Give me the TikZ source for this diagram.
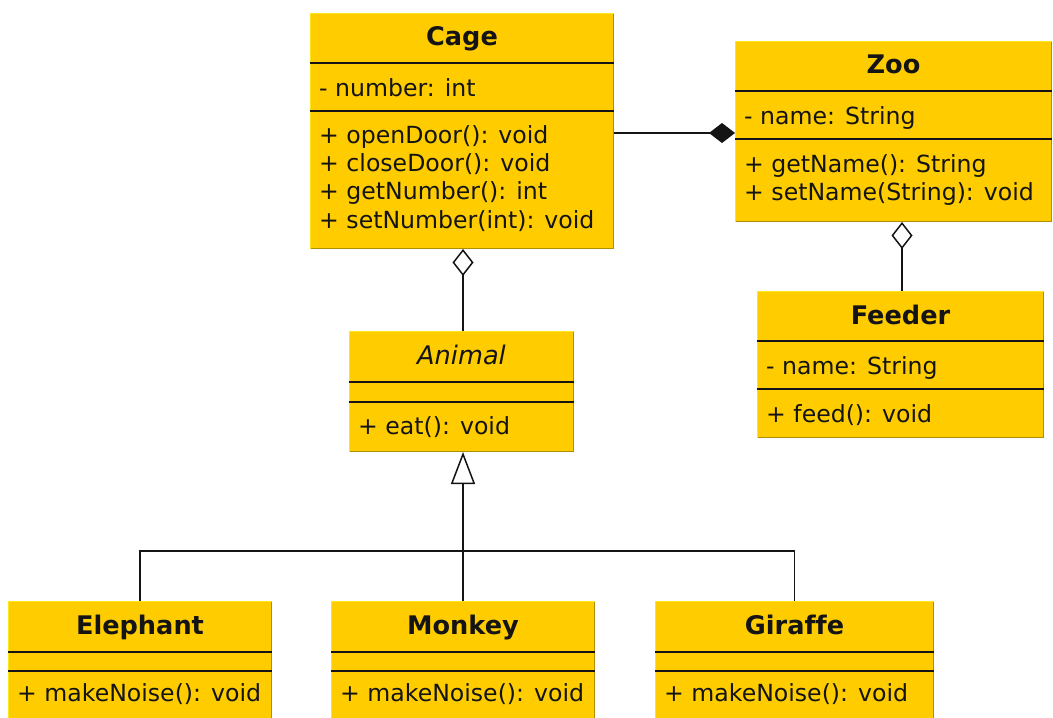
\documentclass[tikz,border=0pt]{standalone}
\usepackage{fontspec}
\setmainfont{DejaVu Sans}[Ligatures=NoCommon]
\usetikzlibrary{arrows.meta}

\definecolor{classfill}{HTML}{FFCC00}
\definecolor{edgelight}{HTML}{FFE61A}
\definecolor{edgedark}{HTML}{B08F00}
\definecolor{ink}{HTML}{141414}

\tikzset{
  classbox/.style={fill=classfill, draw=none, inner sep=0pt, outer sep=0pt, anchor=north west},
  sepline/.style={line width=1.7pt, draw=ink},
  member/.style={anchor=base west, inner sep=0pt, text=ink, font=\fontsize{23.6}{28}\selectfont},
  classname/.style={anchor=base, inner sep=0pt, text=ink, font=\fontsize{25.6}{30}\selectfont\bfseries},
  abstractname/.style={anchor=base, inner sep=0pt, text=ink, font=\fontsize{25.6}{30}\selectfont\itshape},
  link/.style={line width=1.5pt, draw=ink},
  composition/.style={link, -{Diamond[length=26pt, width=20pt]}},
  aggregation/.style={link, -{Diamond[open, fill=white, length=27pt, width=21pt]}},
  generalization/.style={link, -{Triangle[open, fill=white, length=32pt, width=24pt]}},
}

% light top/left edge, darker right/bottom edge of a class box
\newcommand\classframe[1]{%
  \draw[line width=1pt, edgelight] ([shift={(0.5pt,0.5pt)}]#1.south west) -- ([shift={(0.5pt,-0.5pt)}]#1.north west) -- ([shift={(-0.5pt,-0.5pt)}]#1.north east);
  \draw[line width=1pt, edgedark] ([shift={(-0.5pt,-0.5pt)}]#1.north east) -- ([shift={(-0.5pt,0.5pt)}]#1.south east) -- ([shift={(0.5pt,0.5pt)}]#1.south west);
}
% compartment separator, given its distance below the top edge
\newcommand\classsep[2]{%
  \draw[sepline] ([yshift=-#2pt]#1.north west) -- ([yshift=-#2pt]#1.north east);
}

\begin{document}
\begin{tikzpicture}[x=1pt, y=-1pt]
\useasboundingbox (0,0) rectangle (1053,718);
\fill[white] (0,0) rectangle (1053,718);
\clip (0,0) rectangle (1053,718);

% ---------- Cage ----------
\node[classbox, minimum width=304pt, minimum height=236pt] (cage) at (310,13) {};
\classframe{cage}
\classsep{cage}{50}
\classsep{cage}{98}
\node[classname] (cage-name) at (462,45) {Cage};
\node[member] (cage-a1) at (319,96) {- number: int};
\node[member] (cage-m1) at (319,143) {+ openDoor(): void};
\node[member] (cage-m2) at (319,171.3) {+ closeDoor(): void};
\node[member] (cage-m3) at (319,199.6) {+ getNumber(): int};
\node[member] (cage-m4) at (319,228) {+ setNumber(int): void};

% ---------- Zoo ----------
\node[classbox, minimum width=317pt, minimum height=181pt] (zoo) at (735,41) {};
\classframe{zoo}
\classsep{zoo}{50}
\classsep{zoo}{98}
\node[classname] (zoo-name) at (893.5,73) {Zoo};
\node[member] (zoo-a1) at (744,124) {- name: String};
\node[member] (zoo-m1) at (744,172) {+ getName(): String};
\node[member] (zoo-m2) at (744,200) {+ setName(String): void};

% ---------- Feeder ----------
\node[classbox, minimum width=287pt, minimum height=147pt] (feeder) at (757,291) {};
\classframe{feeder}
\classsep{feeder}{50}
\classsep{feeder}{98}
\node[classname] (feeder-name) at (900.5,324) {Feeder};
\node[member] (feeder-a1) at (766,374) {- name: String};
\node[member] (feeder-m1) at (766,422) {+ feed(): void};

% ---------- Animal ----------
\node[classbox, minimum width=225pt, minimum height=121pt] (animal) at (349,331) {};
\classframe{animal}
\classsep{animal}{51}
\classsep{animal}{71}
\node[abstractname] (animal-name) at (461.5,364) {Animal};
\node[member] (animal-m1) at (358,434) {+ eat(): void};

% ---------- Elephant ----------
\node[classbox, minimum width=264pt, minimum height=130pt] (elephant) at (8,601) {};
\classframe{elephant}
\classsep{elephant}{51}
\classsep{elephant}{70}
\node[classname] (elephant-name) at (140,634) {Elephant};
\node[member] (elephant-m1) at (17,701) {+ makeNoise(): void};

% ---------- Monkey ----------
\node[classbox, minimum width=264pt, minimum height=130pt] (monkey) at (331,601) {};
\classframe{monkey}
\classsep{monkey}{51}
\classsep{monkey}{70}
\node[classname] (monkey-name) at (463,634) {Monkey};
\node[member] (monkey-m1) at (340,701) {+ makeNoise(): void};

% ---------- Giraffe ----------
\node[classbox, minimum width=279pt, minimum height=130pt] (giraffe) at (655,601) {};
\classframe{giraffe}
\classsep{giraffe}{51}
\classsep{giraffe}{70}
\node[classname] (giraffe-name) at (794.5,634) {Giraffe};
\node[member] (giraffe-m1) at (664,701) {+ makeNoise(): void};

% ---------- Relations ----------
% Zoo is composed of cages
\draw[composition] ([yshift=-2pt]cage.east) -- ([yshift=-2pt]cage.east -| zoo.west);
% Zoo aggregates feeders
\draw[aggregation] ([xshift=1.5pt]feeder.north) -- ([xshift=1.5pt]feeder.north |- zoo.south);
% Cage aggregates animals
\draw[aggregation] ([xshift=1.5pt]animal.north) -- ([xshift=1.5pt]animal.north |- cage.south);
% Inheritance tree
\coordinate (branch) at (463,551);
\draw[link] (elephant.north) |- (branch);
\draw[link] (giraffe.north) |- (branch);
\draw[generalization] (monkey.north) -- (monkey.north |- animal.south);
\end{tikzpicture}
\end{document}
